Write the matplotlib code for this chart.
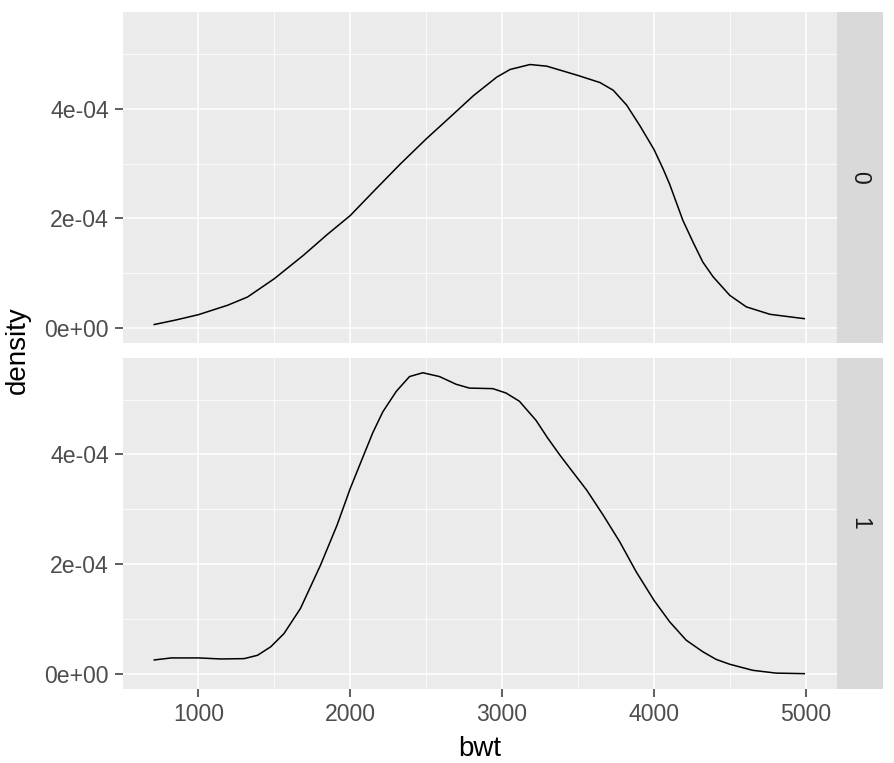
import numpy as np
import matplotlib
matplotlib.use("Agg")
import matplotlib.pyplot as plt

plt.rcParams['font.family'] = ['Liberation Sans', 'DejaVu Sans']

# density curves (bwt, density in units of 1e-4)
bwt_0 = [709, 850, 1000, 1192, 1323, 1500, 1690, 1847, 2000, 2153, 2329, 2500,
         2658, 2811, 2965, 3053, 3184, 3294, 3500, 3645, 3732, 3820, 3908, 4000,
         4061, 4104, 4191, 4260, 4322, 4390, 4500, 4609, 4765, 4990]
dens_0 = [0.058, 0.14, 0.238, 0.41, 0.56, 0.896, 1.32, 1.70, 2.05, 2.49, 2.99, 3.45,
          3.85, 4.24, 4.58, 4.72, 4.81, 4.78, 4.61, 4.48, 4.34, 4.07, 3.69, 3.26,
          2.90, 2.62, 1.96, 1.55, 1.20, 0.93, 0.59, 0.38, 0.244, 0.165]

bwt_1 = [709, 821, 1000, 1148, 1301, 1389, 1476, 1563, 1672, 1804, 1913, 2000,
         2083, 2149, 2215, 2303, 2390, 2478, 2588, 2697, 2785, 2939, 3026, 3114,
         3224, 3300, 3380, 3446, 3557, 3664, 3774, 3883, 4000, 4104, 4213, 4322,
         4410, 4500, 4651, 4804, 4990]
dens_1 = [0.25, 0.287, 0.287, 0.268, 0.274, 0.335, 0.49, 0.73, 1.19, 1.98, 2.71, 3.38,
          3.95, 4.40, 4.78, 5.15, 5.42, 5.49, 5.42, 5.28, 5.21, 5.20, 5.12, 4.97,
          4.62, 4.30, 3.99, 3.75, 3.35, 2.90, 2.41, 1.86, 1.34, 0.945, 0.61, 0.40,
          0.26, 0.171, 0.061, 0.01, 0.0]

facets = ["0", "1"]
x_ticks = [1000, 2000, 3000, 4000, 5000]
x_minor = [1500, 2500, 3500, 4500]
y_ticks = [0, 2e-4, 4e-4]
y_labels = ["0e+00", "2e-04", "4e-04"]
y_minor = [1e-4, 3e-4, 5e-4]

W, H = 895, 763
fig = plt.figure(figsize=(W / 100, H / 100), dpi=100)

panels = [(12.3, 342.7), (357.7, 688.7)]
curves = [(bwt_0, dens_0), (bwt_1, dens_1)]
xl = (503, 5206)
ymax = max(max(dens_0), max(dens_1)) * 1e-4
yl = (-0.05 * ymax, 1.05 * ymax)

for i, ((top, bot), (bx, dy)) in enumerate(zip(panels, curves)):
    ax = fig.add_axes([123 / W, 1 - bot / H, 714 / W, (bot - top) / H])
    ax.set_facecolor('#EBEBEB')
    for s in ax.spines.values():
        s.set_visible(False)
    for v in x_minor:
        ax.axvline(v, color='white', lw=0.55, zorder=0)
    for v in y_minor:
        ax.axhline(v, color='white', lw=0.55, zorder=0)
    for v in x_ticks:
        ax.axvline(v, color='white', lw=1.1, zorder=0)
    for v in y_ticks:
        ax.axhline(v, color='white', lw=1.1, zorder=0)
    ax.plot(bx, np.array(dy) * 1e-4, color='black', lw=1.1, zorder=2)
    ax.set_xlim(xl)
    ax.set_ylim(yl)
    ax.set_yticks(y_ticks)
    ax.set_yticklabels(y_labels)
    ax.set_xticks(x_ticks)
    ax.tick_params(axis='both', length=5.5, width=1.1, color='#333333',
                   labelcolor='#4D4D4D', labelsize=16.6, pad=4.5)
    if i == 0:
        ax.tick_params(axis='x', length=0, labelbottom=False)

    sax = fig.add_axes([837 / W, 1 - bot / H, 46 / W, (bot - top) / H])
    sax.set_facecolor('#D9D9D9')
    sax.set_xticks([])
    sax.set_yticks([])
    for s in sax.spines.values():
        s.set_visible(False)
    sax.text(0.5, 0.5, facets[i], rotation=-90, ha='center', va='center',
             fontsize=16.6, color='#1A1A1A', transform=sax.transAxes)

fig.text(18 / W, 1 - 350.5 / H, "density", rotation=90, ha='center', va='center',
         fontsize=20, color='black')
fig.text(480 / W, 1 - 756.5 / H, "bwt", ha='center', va='baseline',
         fontsize=20, color='black')

fig.savefig("out.png", dpi=100)
